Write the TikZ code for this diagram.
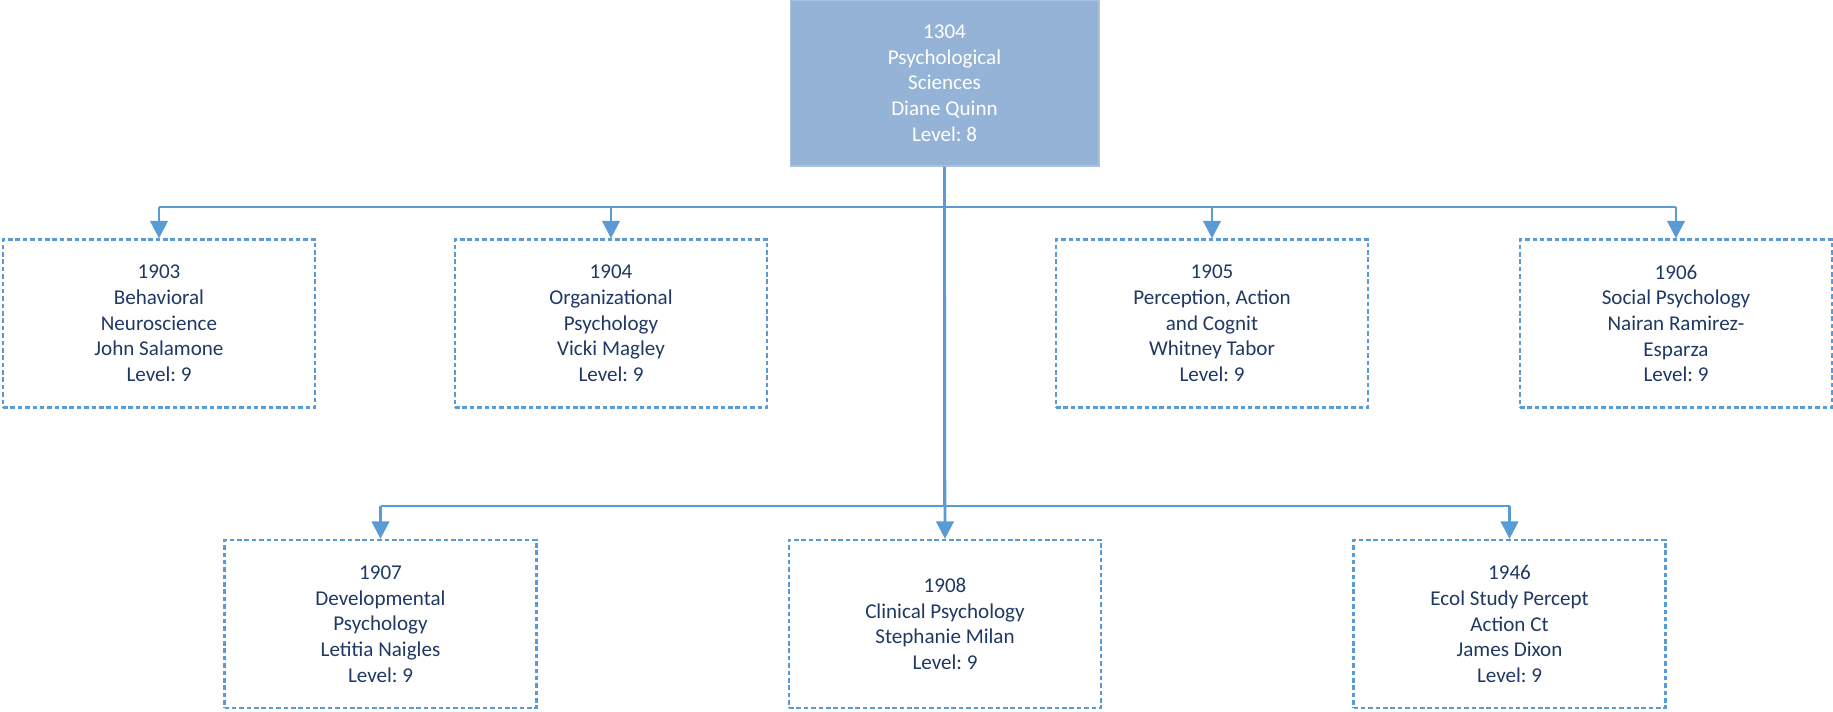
\documentclass[tikz,border=0pt]{standalone}
\usepackage{fontspec}
\setmainfont{Carlito}
\usetikzlibrary{arrows.meta}
\frenchspacing

\definecolor{boxblue}{HTML}{95B3D7}
\definecolor{lineblue}{HTML}{5B9BD5}
\definecolor{textblue}{HTML}{1F3864}

\tikzset{
  rootbox/.style={rectangle, fill=boxblue, draw=boxblue!80!white, line width=0.6pt,
    text=white, align=center, minimum width=6.18cm, minimum height=3.32cm,
    font=\fontsize{12}{14.6}\selectfont},
  unitbox/.style={rectangle, draw=lineblue, line width=1.3pt,
    dash pattern=on 2.6pt off 1.6pt, text=textblue, align=center,
    minimum width=6.24cm, minimum height=3.36cm,
    font=\fontsize{12}{14.6}\selectfont},
  conn/.style={draw=lineblue, line width=1.5pt},
  arr/.style={conn, -{Triangle[length=10pt,width=10pt]}}
}

\begin{document}
\begin{tikzpicture}[x=0.02cm, y=-0.02cm]

\useasboundingbox (0,0) rectangle (1833,711);

% Parameters
\def\yA{323.5}  % first row centre
\def\yB{624}    % second row centre
\def\busA{207}  % first bus line
\def\busB{506}  % second bus line

% Department
\node[rootbox] (root) at (944.5,83) {1304\\Psychological\\Sciences\\Diane Quinn\\Level: 8};

% First row of units
\node[unitbox] (u1903) at (159,\yA) {1903\\Behavioral\\Neuroscience\\John Salamone\\Level: 9};
\node[unitbox] (u1904) at (611,\yA) {1904\\Organizational\\Psychology\\Vicki Magley\\Level: 9};
\node[unitbox] (u1905) at (1212,\yA) {1905\\Perception, Action\\and Cognit\\Whitney Tabor\\Level: 9};
\node[unitbox] (u1906) at (1676,\yA) {1906\\Social Psychology\\Nairan Ramirez-\\Esparza\\Level: 9};

% Second row of units
\node[unitbox] (u1907) at (380.5,\yB) {1907\\Developmental\\Psychology\\Letitia Naigles\\Level: 9};
\node[unitbox] (u1908) at (945,\yB) {1908\\Clinical Psychology\\Stephanie Milan\\Level: 9};
\node[unitbox] (u1946) at (1509.5,\yB) {1946\\Ecol Study Percept\\Action Ct\\James Dixon\\Level: 9};

% Bus corners
\coordinate (b1903) at (u1903.north |- 0,\busA);
\coordinate (b1904) at (u1904.north |- 0,\busA);
\coordinate (b1905) at (u1905.north |- 0,\busA);
\coordinate (b1906) at (u1906.north |- 0,\busA);
\coordinate (b1907) at (u1907.north |- 0,\busB);
\coordinate (b1946) at (u1946.north |- 0,\busB);

% Connectors
\foreach \u in {1903,1904,1905,1906,1907,1946}
  \draw[conn] (root.south) |- (b\u);
\foreach \u in {1903,1904,1905,1906,1907,1946}
  \draw[arr] (b\u) -- (u\u.north);
\draw[arr] (root.south) -- (u1908.north);

\end{tikzpicture}
\end{document}
